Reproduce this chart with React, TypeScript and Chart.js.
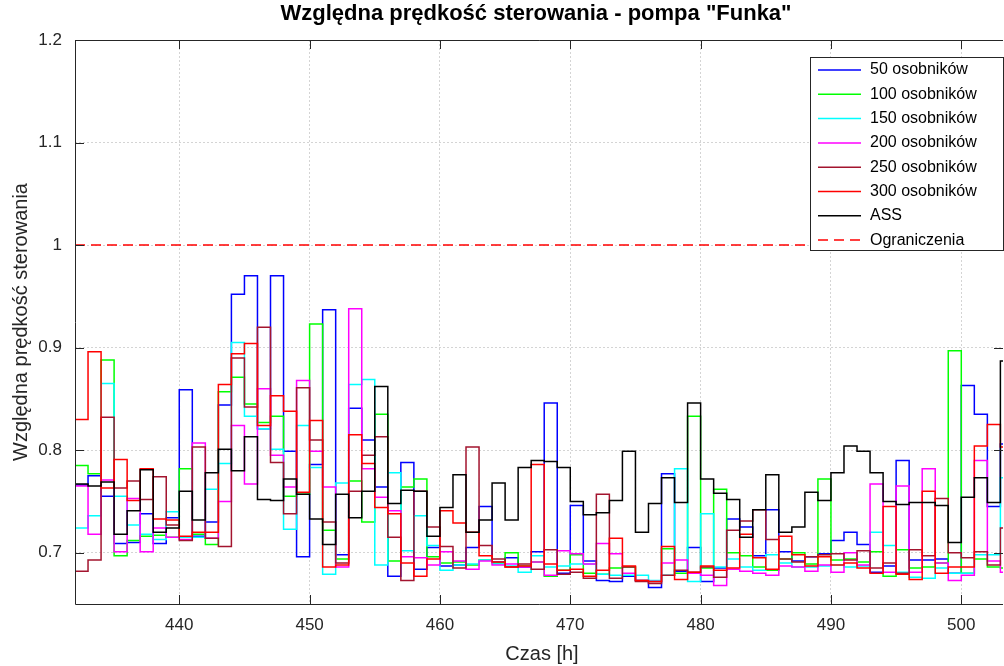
import React, { useEffect, useRef } from 'react';
import { Chart, registerables } from 'chart.js';

Chart.register(...registerables);

const START_HOUR = 432;
const X_MIN = 432;
const X_MAX = 503.2;
const Y_MIN = 0.65;
const Y_MAX = 1.2;
const X_TICKS = [440, 450, 460, 470, 480, 490, 500];
const Y_TICKS = [0.7, 0.8, 0.9, 1.0, 1.1, 1.2];
const Y_TICK_LABELS = ['0.7', '0.8', '0.9', '1', '1.1', '1.2'];
const LIMIT_VALUE = 1.0;

const TITLE = 'Względna prędkość sterowania - pompa "Funka"';
const X_LABEL = 'Czas [h]';
const Y_LABEL = 'Względna prędkość sterowania';

const SERIES_LABELS = ['50 osobników', '100 osobników', '150 osobników', '200 osobników', '250 osobników', '300 osobników', 'ASS', 'Ograniczenia'];

const s50 = [
  0.766, 0.775, 0.755, 0.709, 0.710, 0.738, 0.709, 0.734, 0.859, 0.716,
  0.730, 0.844, 0.952, 0.970, 0.821, 0.970, 0.799, 0.696, 0.786, 0.937,
  0.698, 0.841, 0.810, 0.764, 0.677, 0.788, 0.684, 0.705, 0.687, 0.688,
  0.705, 0.745, 0.691, 0.695, 0.686, 0.701, 0.846, 0.680, 0.746, 0.692,
  0.673, 0.672, 0.677, 0.673, 0.666, 0.777, 0.682, 0.705, 0.672, 0.685,
  0.733, 0.725, 0.697, 0.742, 0.701, 0.692, 0.696, 0.699, 0.712, 0.720,
  0.708, 0.681, 0.687, 0.790, 0.693, 0.693, 0.694, 0.680, 0.863, 0.835,
  0.745, 0.806,
];
const s100 = [
  0.785, 0.777, 0.888, 0.697, 0.712, 0.716, 0.717, 0.715, 0.782, 0.718,
  0.708, 0.857, 0.871, 0.845, 0.827, 0.833, 0.755, 0.757, 0.923, 0.722,
  0.694, 0.770, 0.730, 0.835, 0.692, 0.764, 0.772, 0.696, 0.690, 0.691,
  0.688, 0.693, 0.690, 0.700, 0.687, 0.691, 0.677, 0.683, 0.698, 0.680,
  0.679, 0.685, 0.686, 0.673, 0.672, 0.704, 0.680, 0.833, 0.685, 0.762,
  0.700, 0.697, 0.686, 0.683, 0.694, 0.700, 0.689, 0.772, 0.693, 0.694,
  0.691, 0.701, 0.677, 0.703, 0.685, 0.686, 0.690, 0.897, 0.680, 0.694,
  0.686, 0.685,
];
const s150 = [
  0.724, 0.736, 0.865, 0.755, 0.727, 0.718, 0.713, 0.740, 0.715, 0.715,
  0.762, 0.787, 0.905, 0.833, 0.821, 0.801, 0.723, 0.824, 0.783, 0.679,
  0.768, 0.864, 0.869, 0.688, 0.778, 0.702, 0.736, 0.707, 0.683, 0.688,
  0.689, 0.693, 0.689, 0.687, 0.681, 0.697, 0.686, 0.687, 0.689, 0.689,
  0.679, 0.678, 0.678, 0.678, 0.673, 0.678, 0.782, 0.672, 0.738, 0.686,
  0.694, 0.686, 0.683, 0.698, 0.690, 0.686, 0.686, 0.687, 0.688, 0.686,
  0.687, 0.720, 0.707, 0.681, 0.676, 0.675, 0.685, 0.680, 0.680, 0.698,
  0.698, 0.773,
];
const s200 = [
  0.765, 0.718, 0.771, 0.701, 0.753, 0.701, 0.724, 0.715, 0.713, 0.807,
  0.714, 0.750, 0.824, 0.767, 0.860, 0.795, 0.764, 0.868, 0.799, 0.764,
  0.686, 0.938, 0.782, 0.754, 0.741, 0.696, 0.695, 0.688, 0.701, 0.692,
  0.684, 0.692, 0.688, 0.689, 0.686, 0.691, 0.678, 0.702, 0.699, 0.689,
  0.709, 0.699, 0.680, 0.673, 0.672, 0.690, 0.693, 0.680, 0.678, 0.668,
  0.684, 0.682, 0.680, 0.678, 0.687, 0.686, 0.682, 0.688, 0.681, 0.700,
  0.688, 0.767, 0.681, 0.765, 0.681, 0.782, 0.690, 0.673, 0.678, 0.790,
  0.692, 0.681,
];
const s250 = [
  0.682, 0.693, 0.832, 0.763, 0.770, 0.752, 0.774, 0.727, 0.712, 0.803,
  0.714, 0.706, 0.890, 0.842, 0.920, 0.788, 0.738, 0.861, 0.810, 0.730,
  0.690, 0.760, 0.795, 0.813, 0.715, 0.673, 0.760, 0.725, 0.706, 0.685,
  0.803, 0.707, 0.694, 0.686, 0.689, 0.684, 0.703, 0.679, 0.681, 0.675,
  0.757, 0.675, 0.686, 0.672, 0.670, 0.678, 0.683, 0.681, 0.686, 0.676,
  0.722, 0.731, 0.742, 0.713, 0.694, 0.691, 0.696, 0.698, 0.699, 0.693,
  0.702, 0.685, 0.690, 0.680, 0.703, 0.697, 0.753, 0.700, 0.695, 0.701,
  0.688, 0.724,
];
const s300 = [
  0.830, 0.896, 0.763, 0.791, 0.751, 0.782, 0.733, 0.732, 0.716, 0.720,
  0.720, 0.864, 0.894, 0.904, 0.824, 0.853, 0.838, 0.759, 0.829, 0.686,
  0.688, 0.815, 0.787, 0.744, 0.738, 0.690, 0.677, 0.694, 0.741, 0.729,
  0.720, 0.697, 0.691, 0.686, 0.687, 0.786, 0.689, 0.683, 0.684, 0.677,
  0.683, 0.714, 0.687, 0.673, 0.672, 0.706, 0.674, 0.681, 0.687, 0.683,
  0.685, 0.718, 0.695, 0.684, 0.716, 0.698, 0.687, 0.696, 0.688, 0.690,
  0.685, 0.680, 0.745, 0.679, 0.674, 0.760, 0.680, 0.686, 0.686, 0.804,
  0.825, 0.803,
];
const sASS = [
  0.767, 0.765, 0.769, 0.718, 0.741, 0.781, 0.720, 0.724, 0.760, 0.732,
  0.778, 0.801, 0.780, 0.813, 0.752, 0.751, 0.772, 0.757, 0.733, 0.708,
  0.757, 0.734, 0.760, 0.862, 0.748, 0.761, 0.760, 0.716, 0.744, 0.776,
  0.720, 0.732, 0.768, 0.732, 0.783, 0.790, 0.789, 0.783, 0.750, 0.737,
  0.739, 0.751, 0.799, 0.720, 0.748, 0.773, 0.749, 0.846, 0.772, 0.758,
  0.752, 0.715, 0.742, 0.776, 0.720, 0.725, 0.759, 0.751, 0.778, 0.804,
  0.799, 0.778, 0.750, 0.747, 0.749, 0.749, 0.746, 0.710, 0.754, 0.773,
  0.749, 0.887,
];

const COLORS = ['#0000ff', '#00ff00', '#00ffff', '#ff00ff', '#a3142e', '#ff0000', '#000000', '#ff0000'];
const FONT = "Arial, 'Liberation Sans', Helvetica, sans-serif";

function toSteps(values: number[]) {
  const pts = values.map((v, i) => ({ x: START_HOUR + i, y: v }));
  pts.push({ x: START_HOUR + values.length, y: values[values.length - 1] });
  return pts;
}

const overlayPlugin = {
  id: 'overlay',
  afterDraw(chart: any) {
    const { ctx, chartArea } = chart;
    const { left, right, top, bottom } = chartArea;
    const xs = chart.scales.x;
    const ys = chart.scales.y;
    ctx.save();
    // box
    ctx.strokeStyle = '#262626';
    ctx.lineWidth = 1;
    ctx.setLineDash([]);
    ctx.beginPath();
    ctx.moveTo(left + 0.5, top + 0.5);
    ctx.lineTo(left + 0.5, bottom + 0.5);
    ctx.lineTo(right, bottom + 0.5);
    ctx.moveTo(left + 0.5, top + 0.5);
    ctx.lineTo(right, top + 0.5);
    ctx.stroke();
    // inward ticks
    const tl = 9;
    ctx.beginPath();
    Y_TICKS.forEach((v) => {
      const y = Math.round(ys.getPixelForValue(v)) + 0.5;
      ctx.moveTo(left, y);
      ctx.lineTo(left + tl, y);
      ctx.moveTo(right, y);
      ctx.lineTo(right - tl, y);
    });
    X_TICKS.forEach((v) => {
      const x = Math.round(xs.getPixelForValue(v)) + 0.5;
      ctx.moveTo(x, bottom);
      ctx.lineTo(x, bottom - tl);
      ctx.moveTo(x, top);
      ctx.lineTo(x, top + tl);
    });
    ctx.stroke();

    // titles
    ctx.fillStyle = '#000000';
    ctx.font = `bold 22px ${FONT}`;
    ctx.textAlign = 'center';
    ctx.textBaseline = 'middle';
    ctx.fillText(TITLE, 536, 14);
    ctx.fillStyle = '#262626';
    ctx.font = `20px ${FONT}`;
    ctx.fillText(X_LABEL, 542, 654);
    ctx.save();
    ctx.translate(21, (top + bottom) / 2);
    ctx.rotate(-Math.PI / 2);
    ctx.fillText(Y_LABEL, 0, 0);
    ctx.restore();

    // legend
    const lw = 193;
    const lh = 193;
    const lx = right - lw;
    const ly = top + 17;
    ctx.fillStyle = '#ffffff';
    ctx.fillRect(lx, ly, lw, lh);
    ctx.strokeStyle = '#262626';
    ctx.lineWidth = 1;
    ctx.strokeRect(lx + 0.5, ly + 0.5, lw, lh);
    ctx.font = `16px ${FONT}`;
    ctx.textAlign = 'left';
    ctx.textBaseline = 'middle';
    SERIES_LABELS.forEach((lab, i) => {
      const y = ly + 13 + i * 24.3;
      ctx.strokeStyle = COLORS[i];
      ctx.lineWidth = 1.5;
      ctx.setLineDash(i === 7 ? [10, 6] : []);
      ctx.beginPath();
      ctx.moveTo(lx + 8, y);
      ctx.lineTo(lx + 51, y);
      ctx.stroke();
      ctx.setLineDash([]);
      ctx.fillStyle = '#000000';
      ctx.fillText(lab, lx + 60, y);
    });
    ctx.restore();
  },
};

export default function App() {
  const ref = useRef<HTMLCanvasElement | null>(null);
  useEffect(() => {
    if (!ref.current) return;
    const series = [s50, s100, s150, s200, s250, s300, sASS];
    const datasets: any[] = series.map((vals, i) => ({
      label: SERIES_LABELS[i],
      data: toSteps(vals),
      stepped: true,
      borderColor: COLORS[i],
      borderWidth: 1.5,
      pointRadius: 0,
      fill: false,
      order: 10 - i,
    }));
    datasets.push({
      label: SERIES_LABELS[7],
      data: [
        { x: X_MIN, y: LIMIT_VALUE },
        { x: 504, y: LIMIT_VALUE },
      ],
      borderColor: COLORS[7],
      borderWidth: 1.5,
      borderDash: [10, 6],
      pointRadius: 0,
      fill: false,
      order: 0,
    });
    const chart = new Chart(ref.current, {
      type: 'line',
      data: { datasets },
      options: {
        animation: false,
        responsive: false,
        maintainAspectRatio: false,
        layout: { padding: { top: 40, left: 0, right: 1, bottom: 0 } },
        plugins: {
          legend: { display: false },
          title: { display: false },
          tooltip: { enabled: false },
        },
        scales: {
          x: {
            type: 'linear',
            min: X_MIN,
            max: X_MAX,
            afterBuildTicks: (s: any) => {
              s.ticks = X_TICKS.map((v) => ({ value: v }));
            },
            afterFit: (s: any) => {
              s.height = 62;
            },
            grid: { color: 'rgba(38,38,38,0.2)', drawTicks: false, lineWidth: 1 },
            border: { display: false, dash: [2, 2] },
            ticks: {
              font: { family: FONT, size: 17 },
              color: '#262626',
              padding: 11,
              maxRotation: 0,
              autoSkip: false,
              callback: (v: any) => String(v),
            },
          },
          y: {
            type: 'linear',
            min: Y_MIN,
            max: Y_MAX,
            afterBuildTicks: (s: any) => {
              s.ticks = Y_TICKS.map((v) => ({ value: v }));
            },
            afterFit: (s: any) => {
              s.width = 75;
            },
            grid: { color: 'rgba(38,38,38,0.2)', drawTicks: false, lineWidth: 1 },
            border: { display: false, dash: [2, 2] },
            ticks: {
              font: { family: FONT, size: 17 },
              color: '#262626',
              padding: 13,
              autoSkip: false,
              callback: (v: any) => {
                const idx = Y_TICKS.findIndex((t) => Math.abs(t - v) < 1e-9);
                return idx >= 0 ? Y_TICK_LABELS[idx] : '';
              },
            },
          },
        },
      },
      plugins: [overlayPlugin],
    });
    return () => chart.destroy();
  }, []);
  return (
    <div style={{ position: 'fixed', left: 0, top: 0, width: 1004, height: 666, background: '#ffffff' }}>
      <canvas ref={ref} width={1004} height={666} style={{ display: 'block' }} />
    </div>
  );
}
